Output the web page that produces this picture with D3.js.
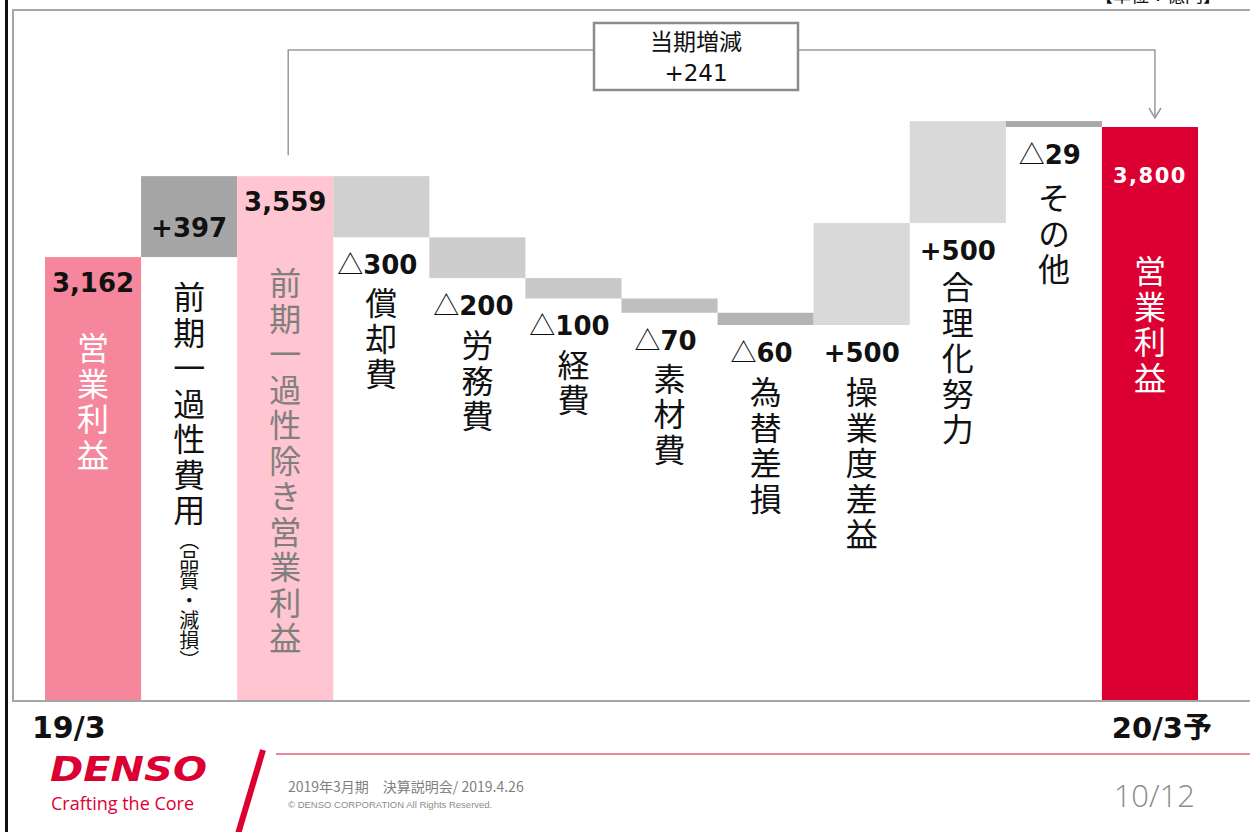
<!DOCTYPE html>
<html>
<head>
<meta charset="utf-8">
<script src="https://cdn.jsdelivr.net/npm/d3@7"></script>
<style>
  body { margin: 0; background: #fff; }
  svg { display: block; }
</style>
</head>
<body>
<div id="chart"></div>
<script>
// page size
var svgWidth = 1250;
var svgHeight = 832;

// chart data (億円)
var categories = ["19/3", "oneoff", "adjusted", "deprec", "labor", "expense", "material", "fx", "volume", "rational", "other", "20/3"];
var values = [3162, 397, 3559, -300, -200, -100, -70, -60, 500, 500, -29, 3800];
var kinds = ["total", "delta", "total", "delta", "delta", "delta", "delta", "delta", "delta", "delta", "delta", "total"];
var valueLabels = ["3,162", "+397", "3,559", "△300", "△200", "△100", "△70", "△60", "+500", "+500", "△29", "3,800"];
var nameLabels = ["営業利益", "前期一過性費用", "前期一過性除き営業利益", "償却費", "労務費", "経費", "素材費", "為替差損", "操業度差益", "合理化努力", "その他", "営業利益"];
var nameNotes = ["", "（品質・減損）", "", "", "", "", "", "", "", "", "", ""];
var periodLabels = ["19/3", "20/3予"];
var changeTitle = "当期増減";
var changeValue = "+241";
var unitLabel = "【単位：億円】";

// styles
var barColors = ["#F5869C", "#A6A6A6", "#FFC5D0", "#D0D0D0", "#CDCDCD", "#C8C8C8", "#BFBFBF", "#B4B4B4", "#D9D9D9", "#D9D9D9", "#A9A9A9", "#DC0032"];
var nameColors = ["#fff", "#111", "#7F7F7F", "#111", "#111", "#111", "#111", "#111", "#111", "#111", "#111", "#fff"];

var numFont = "'DejaVu Sans', Verdana, sans-serif";
var jpFont = "'Noto Sans CJK JP', 'Noto Sans', sans-serif";

var svg = d3.select("#chart")
  .append("svg")
  .attr("width", svgWidth)
  .attr("height", svgHeight);

// scales (the value axis starts near 990, as in the slide)
var xScale = d3.scaleBand()
  .domain(categories)
  .range([45, 1198])
  .padding(0);

var yScale = d3.scaleLinear()
  .domain([990, 3800])
  .range([700, 127]);

// running totals for the waterfall
var bars = [];
var running = 0;
categories.forEach(function(c, i) {
  var start, end;
  if (kinds[i] === "total") {
    start = yScale.domain()[0];
    end = values[i];
    running = values[i];
  } else {
    start = running;
    end = running + values[i];
    running = end;
  }
  bars.push({
    key: c, i: i, kind: kinds[i],
    lo: Math.min(start, end), hi: Math.max(start, end),
    label: valueLabels[i], name: nameLabels[i], note: nameNotes[i]
  });
});

// frame
svg.append("rect").attr("x", 5).attr("y", 0).attr("width", 3).attr("height", svgHeight).attr("fill", "#111");
svg.append("path")
  .attr("d", "M1252,10 H13 V701 H1252")
  .attr("fill", "none")
  .attr("stroke", "#A6A6A6")
  .attr("stroke-width", 2);

// unit label, cut by the top edge as on the slide
svg.append("text")
  .attr("x", 1095).attr("y", 2)
  .style("font-family", jpFont).style("font-size", "18px")
  .attr("fill", "#111")
  .text(unitLabel);

// bars
svg.selectAll("rect.bar")
  .data(bars)
  .enter()
  .append("rect")
  .attr("class", "bar")
  .attr("x", d => xScale(d.key))
  .attr("y", d => yScale(d.hi))
  .attr("width", xScale.bandwidth())
  .attr("height", d => yScale(d.lo) - yScale(d.hi))
  .attr("fill", (d, i) => barColors[i]);

// value labels
function valueY(d) {
  if (d.kind === "total") return yScale(d.hi) + (d.i === 11 ? 56 : 35);
  if (d.i === 1) return yScale(d.lo) - 20;
  return yScale(d.lo) + 37;
}

var vl = svg.selectAll("text.val")
  .data(bars)
  .enter()
  .append("text")
  .attr("class", "val")
  .attr("x", d => xScale(d.key) + xScale.bandwidth() / 2 - (d.label.charAt(0) === "△" ? 4 : 0))
  .attr("y", valueY)
  .attr("text-anchor", "middle")
  .attr("fill", d => d.i === 11 ? "#fff" : "#111")
  .style("font-family", numFont)
  .style("font-weight", "bold")
  .style("font-size", d => d.i === 11 ? "21px" : "26px")
  .style("letter-spacing", d => d.i === 11 ? "1.5px" : "0px");

vl.each(function(d) {
  var t = d3.select(this);
  if (d.label.charAt(0) === "△") {
    t.append("tspan")
      .style("font-family", jpFont)
      .style("font-weight", "normal")
      .text("△");
    t.append("tspan").text(d.label.slice(1));
  } else {
    t.text(d.label);
  }
});

// vertical category names
var nameGap = [40, 44, 56, 13, 14, 13, 13, 14, 14, 11, 18, 72];

var nl = svg.selectAll("text.name")
  .data(bars)
  .enter()
  .append("text")
  .attr("class", "name")
  .attr("x", d => xScale(d.key) + xScale.bandwidth() / 2)
  .attr("y", d => valueY(d) + nameGap[d.i])
  .attr("fill", (d, i) => nameColors[i])
  .style("writing-mode", "vertical-rl")
  .style("font-family", jpFont)
  .style("font-size", "32px")
  .style("letter-spacing", "3.5px");

nl.each(function(d) {
  var t = d3.select(this);
  t.append("tspan").text(d.name);
  if (d.note) {
    t.append("tspan").style("font-size", "20px").style("letter-spacing", "0px").text(d.note);
  }
});

// period labels under the axis
var firstX = xScale(categories[0]);
var lastX = xScale(categories[categories.length - 1]) + xScale.bandwidth();
svg.append("text")
  .attr("x", firstX - 13).attr("y", 738)
  .style("font-family", numFont + ", " + jpFont)
  .style("font-weight", "bold").style("font-size", "30px")
  .attr("fill", "#111")
  .text(periodLabels[0]);
svg.append("text")
  .attr("x", lastX + 14).attr("y", 738)
  .attr("text-anchor", "end")
  .style("font-family", numFont + ", " + jpFont)
  .style("font-weight", "bold").style("font-size", "29px")
  .attr("fill", "#111")
  .text(periodLabels[1]);

// change bracket between adjusted profit and forecast
var leftCx = xScale(categories[2]) + xScale.bandwidth() / 2 + 3;
var rightCx = xScale(categories[11]) + xScale.bandwidth() / 2 + 5;
var bracketY = 50;
var g = svg.append("g").attr("stroke", "#9A9A9A").attr("fill", "none").attr("stroke-width", 1.5);
g.append("path").attr("d", `M${leftCx},${yScale(values[2]) - 21} V${bracketY} H594`);
g.append("path").attr("d", `M798,${bracketY} H${rightCx} V${yScale(values[11]) - 9}`);
g.append("path").attr("d", `M${rightCx - 6},${yScale(values[11]) - 19} L${rightCx},${yScale(values[11]) - 9} L${rightCx + 6},${yScale(values[11]) - 19}`);
svg.append("rect")
  .attr("x", 594).attr("y", 23).attr("width", 204).attr("height", 67)
  .attr("fill", "#fff").attr("stroke", "#8C8C8C").attr("stroke-width", 2.5);
svg.append("text")
  .attr("x", 696).attr("y", 50).attr("text-anchor", "middle")
  .style("font-family", jpFont).style("font-size", "23px").attr("fill", "#111")
  .text(changeTitle);
svg.append("text")
  .attr("x", 696).attr("y", 81).attr("text-anchor", "middle")
  .style("font-family", numFont).style("font-size", "23px").attr("fill", "#111")
  .text(changeValue);

// footer
svg.append("text")
  .attr("x", 50).attr("y", 781)
  .attr("textLength", 157).attr("lengthAdjust", "spacingAndGlyphs")
  .style("font-family", numFont).style("font-weight", "bold").style("font-style", "italic")
  .style("font-size", "34px").attr("fill", "#DC0032")
  .text("DENSO");
svg.append("text")
  .attr("x", 51).attr("y", 810)
  .style("font-family", "'Open Sans', 'Noto Sans', sans-serif")
  .style("font-size", "18px").attr("fill", "#DC0032")
  .text("Crafting the Core");
svg.append("line")
  .attr("x1", 263).attr("y1", 750).attr("x2", 238).attr("y2", 834)
  .attr("stroke", "#DC0032").attr("stroke-width", 6);
svg.append("line")
  .attr("x1", 276).attr("y1", 754).attr("x2", 1250).attr("y2", 754)
  .attr("stroke", "#E0607A").attr("stroke-width", 1.5);
svg.append("text")
  .attr("x", 288).attr("y", 792)
  .style("font-family", jpFont).style("font-size", "14px").attr("fill", "#7F7F7F")
  .text("2019年3月期　決算説明会/ 2019.4.26");
svg.append("text")
  .attr("x", 288).attr("y", 808)
  .style("font-family", "'Liberation Sans', sans-serif").style("font-size", "9.5px").attr("fill", "#8C8C8C")
  .text("© DENSO CORPORATION All Rights Reserved.");
svg.append("text")
  .attr("x", 1195).attr("y", 807).attr("text-anchor", "end")
  .style("font-family", "'Open Sans', 'Noto Sans', sans-serif").style("font-weight", "300")
  .style("font-size", "31px").attr("fill", "#8C8C8C")
  .text("10/12");
</script>
</body>
</html>
